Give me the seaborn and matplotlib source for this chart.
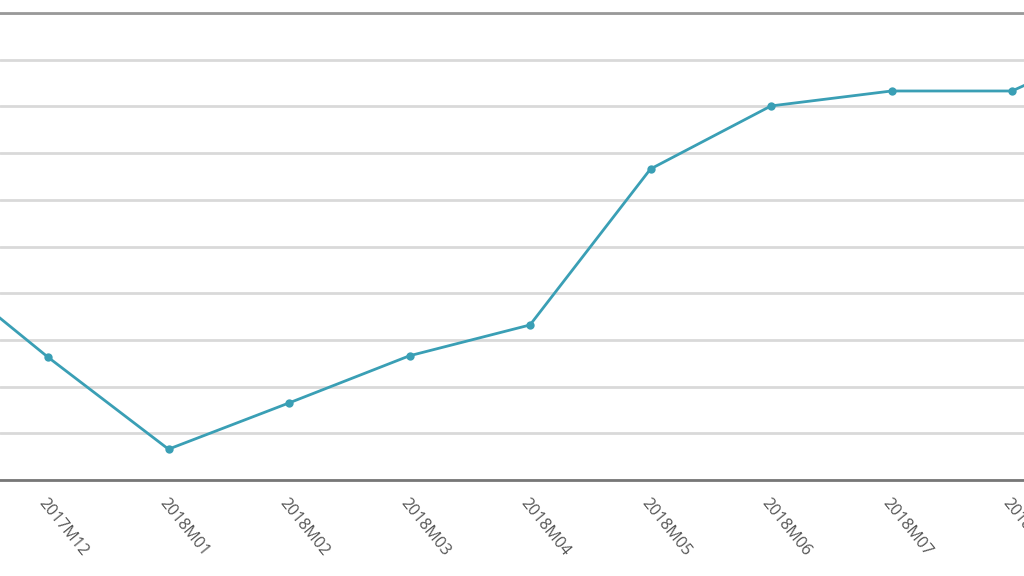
import matplotlib
matplotlib.use("Agg")
import matplotlib.pyplot as plt
import seaborn as sns
import pandas as pd
import numpy as np

# data (grid units)
months = ['2017M11', '2017M12', '2018M01', '2018M02', '2018M03', '2018M04',
          '2018M05', '2018M06', '2018M07', '2018M08', '2018M09']
values = [4.73, 2.63, 0.66, 1.65, 2.66, 3.32, 6.66, 8.01, 8.33, 8.33, 9.5]

df = pd.DataFrame({'month': months, 'value': values})
df['pos'] = np.arange(len(df))

sns.set_style("white")
plt.rcParams['font.family'] = ['Open Sans', 'DejaVu Sans']

fig = plt.figure(figsize=(10.24, 5.76), dpi=100)
ax = fig.add_axes([0, 1 - 480 / 576, 1, (480 - 13) / 576])

sns.lineplot(data=df, x='pos', y='value', ax=ax, color='#3a9fb5', linewidth=2,
             marker='o', markersize=6, markeredgewidth=0, zorder=3)

# horizontal grid
ax.set_yticks(np.arange(0, 11, 1))
ax.yaxis.grid(True, color='#d9d9d9', linewidth=2)
ax.set_yticklabels([])
ax.tick_params(axis='y', length=0)

# category labels + small ticks between categories
ax.set_xticks(df['pos'])
ax.set_xticklabels(df['month'], rotation=-51, ha='left', va='top',
                   rotation_mode='anchor', fontsize=11.5, color='#555555')
ax.tick_params(axis='x', which='major', length=0, pad=11)
ax.set_xticks(df['pos'][:-1] + 0.5, minor=True)
ax.tick_params(axis='x', which='minor', length=4, width=1, color='#aaaaaa', direction='in')

# only part of the series is visible, as in the cropped original
ax.set_xlim(1 - 48 / 120.5, 1 + (1024 - 48) / 120.5)
ax.set_ylim(0, 10)

ax.set_xlabel('')
ax.set_ylabel('')

for s in ['left', 'right']:
    ax.spines[s].set_visible(False)
ax.spines['top'].set_color('#999999')
ax.spines['top'].set_linewidth(2)
ax.spines['bottom'].set_color('#777777')
ax.spines['bottom'].set_linewidth(2)

fig.savefig('out.png', dpi=100)
